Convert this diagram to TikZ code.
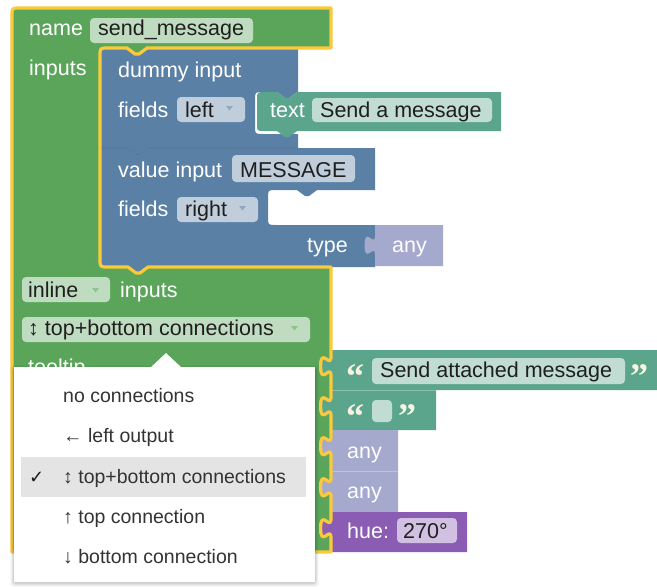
\documentclass[tikz,border=0pt]{standalone}
\usepackage{fontspec}
\setmainfont{Liberation Sans}
\newfontfamily\symfont{DejaVu Sans}
\newfontfamily\quotefont{Liberation Serif}

\definecolor{gblock}{HTML}{5BA55B}
\definecolor{bblock}{HTML}{5B80A5}
\definecolor{tblock}{HTML}{5BA58C}
\definecolor{ablock}{HTML}{A5A9CE}
\definecolor{pblock}{HTML}{8A5CB3}
\definecolor{selcol}{HTML}{FBC93A}
\definecolor{menutext}{HTML}{333333}
\definecolor{menuhl}{HTML}{E4E4E4}
\definecolor{quotecol}{HTML}{F6F3E4}

\begin{document}
\begin{tikzpicture}[x=1pt,y=-1pt,
  lbl/.style={anchor=base west, inner sep=0pt, text=white, font=\fontsize{21.5}{24}\selectfont},
  fldtxt/.style={anchor=base west, inner sep=0pt, text=black!88, font=\fontsize{21.5}{24}\selectfont},
  menuitem/.style={anchor=base west, inner sep=0pt, text=menutext, font=\fontsize{19.5}{22}\selectfont},
  quotemark/.style={anchor=base west, inner sep=0pt, text=quotecol, font=\quotefont\bfseries\fontsize{36}{38}\selectfont},
  fieldbg/.style={fill=white, fill opacity=0.62, rounded corners=4pt},
  ddarrow/.style={fill=#1!68!white},
  % puzzle tab on a right edge, running downwards from block top #2
  tabdn/.style 2 args={insert path={-- (#1,#2+6.5) .. controls (#1,#2+19.5) and (#1-10.4,#2-3.9) .. (#1-10.4,#2+16.25) .. controls (#1-10.4,#2+36.4) and (#1,#2+13) .. (#1,#2+26)}},
  % outline of the selected definition block
  greenshape/.style={insert path={(12,552) -- (12,16) .. controls (12,8) .. (20,8) -- (331,8) -- (331,48)
     -- (147,48) -- (139,54) -- (135,54) -- (127,48) -- (108,48) .. controls (100,48) .. (100,56)
     -- (100,259) .. controls (100,267) .. (108,267) -- (128,267) -- (136,273) -- (140,273) -- (148,267)
     -- (331,267) [tabdn={331}{350}] [tabdn={331}{390}] [tabdn={331}{430}] [tabdn={331}{471}] [tabdn={331}{512}]
     -- (331,552) -- cycle}}
]
\useasboundingbox (0,0) rectangle (657,587);
\fill[white] (0,0) rectangle (657,587);

% ---- definition block body
\fill[gblock] [greenshape];

% ---- dummy input block
\fill[bblock] (100,56) .. controls (100,48) .. (108,48) -- (127,48) -- (135,54) -- (139,54) -- (147,48)
  -- (298,48) -- (298,92) -- (297,92) -- (289,98) -- (285,98) -- (277,92) -- (263,92) .. controls (255,92) .. (255,100)
  -- (255,126) .. controls (255,134) .. (263,134) -- (298,134) -- (298,148)
  -- (148,148) -- (140,154) -- (136,154) -- (128,148) -- (100,148) -- cycle;

% ---- text field block inside it
\fill[tblock] (257,100) .. controls (257,92) .. (265,92) -- (277,92) -- (285,98) -- (289,98) -- (297,92)
  -- (501,92) -- (501,131) -- (297,131) -- (289,137) -- (285,137) -- (277,131) -- (265,131) .. controls (257,131) .. (257,125) -- cycle;

% ---- value input block
\fill[bblock] (100,148) -- (128,148) -- (136,154) -- (140,154) -- (148,148) -- (375,148) -- (375,190)
  -- (317,190) -- (309,196) -- (305,196) -- (297,190) -- (276,190) .. controls (268,190) .. (268,198)
  -- (268,217) .. controls (268,225) .. (276,225) -- (375,225) -- (375,267)
  -- (148,267) -- (140,273) -- (136,273) -- (128,267) -- (108,267) .. controls (100,267) .. (100,259) -- cycle;
\draw[black, opacity=.12, line width=.8pt] (100,148) -- (128,148) -- (136,154) -- (140,154) -- (148,148) -- (298,148);

% ---- type block on the value input
\fill[ablock] (375,225) [tabdn={375}{229}] -- (375,266) -- (443,266) -- (443,225) -- cycle;

% ---- blocks plugged into the right-hand inputs
\fill[tblock] (331,350) [tabdn={331}{350}] -- (331,390) -- (657,390) -- (657,350) -- cycle;
\fill[tblock] (331,390) [tabdn={331}{390}] -- (331,430) -- (436,430) -- (436,390) -- cycle;
\fill[ablock] (331,430) [tabdn={331}{430}] -- (331,471) -- (398,471) -- (398,430) -- cycle;
\fill[ablock] (331,471) [tabdn={331}{471}] -- (331,512) -- (398,512) -- (398,471) -- cycle;
\fill[pblock] (331,512) [tabdn={331}{512}] -- (331,552) -- (467,552) -- (467,512) -- cycle;
\draw[white, opacity=.3, line width=.8pt] (331,390) -- (436,390) (331,471) -- (398,471);

% ---- editable field backgrounds
\fill[fieldbg] (90,18) rectangle (253,43);
\fill[fieldbg] (177,97) rectangle (245,122);
\fill[fieldbg] (312,98) rectangle (492,122);
\fill[fieldbg] (232,155) rectangle (355,182);
\fill[fieldbg] (177,197) rectangle (258,222);
\fill[fieldbg] (22,277) rectangle (110,302);
\fill[fieldbg] (22,317) rectangle (310,342);
\fill[fieldbg] (372,358) rectangle (625,384);
\fill[fieldbg] (372,400) rectangle (392,422);
\fill[fieldbg] (397,518) rectangle (457,543);

% dropdown arrows
\fill[ddarrow=bblock] (226,106) -- (233,106) -- (229.5,110.5) -- cycle;
\fill[ddarrow=bblock] (239,206) -- (246,206) -- (242.5,210.5) -- cycle;
\fill[ddarrow=gblock] (92,288) -- (99,288) -- (95.5,292.5) -- cycle;
\fill[ddarrow=gblock] (291,326) -- (298,326) -- (294.5,330.5) -- cycle;

% ---- labels
\node[lbl] (tname) at (29,35) {name};
\node[fldtxt] (fname) at (98,35) {send\_message};
\node[lbl] (tinputs) at (29,75) {inputs};
\node[lbl] (tdummy) at (118,77) {dummy input};
\node[lbl] (tfields1) at (118,117) {fields};
\node[fldtxt] (fleft) at (185,117) {left};
\node[lbl] (ttext) at (270,117) {text};
\node[fldtxt] (fsend) at (320,117) {Send a message};
\node[lbl] (tvalue) at (118,177) {value input};
\node[fldtxt] (fmsg) at (240,177) {MESSAGE};
\node[lbl] (tfields2) at (118,216) {fields};
\node[fldtxt] (fright) at (185,216) {right};
\node[lbl] (ttype) at (307,252) {type};
\node[lbl] (tany0) at (392,252) {any};
\node[fldtxt] (finline) at (28,297) {inline};
\node[lbl] (tinputs2) at (120,297) {inputs};
\node[fldtxt] (fconn) at (28,335) {↕ top+bottom connections};
\node[lbl] (ttooltip) at (28,374) {tooltip};

\node[quotemark] (q1l) at (346,388) {“};
\node[fldtxt] (ftip) at (380,377) {Send attached message};
\node[quotemark] (q1r) at (630,388) {”};
\node[quotemark] (q2l) at (346,428) {“};
\node[quotemark] (q2r) at (398,428) {”};
\node[lbl] (tany1) at (347,458) {any};
\node[lbl] (tany2) at (347,498) {any};
\node[lbl] (thue) at (347,538) {hue:};
\node[fldtxt] (fhue) at (403,538) {270°};

% ---- selection highlight
\draw[selcol, line width=3.2pt, line join=round] [greenshape];

% ---- open dropdown menu
\foreach \i/\o in {4/0.025,3/0.035,2/0.05,1/0.07}
  \fill[black, opacity=\o, rounded corners=3pt] (14-\i,367-\i+2) rectangle (315+\i,582+\i+1);
\fill[black, opacity=.08] (149,369) -- (166,352) -- (183,369) -- cycle;
\fill[white] (14,367) rectangle (315,582);
\fill[white] (150,368) -- (166,353) -- (182,368) -- cycle;
\fill[menuhl] (21,457) rectangle (306,497);

\node[menuitem] (mnone) at (63,402) {no connections};
\node[menuitem] (mleft) at (63,442) {← left output};
\node[anchor=base west, inner sep=0pt, text=black!90, font=\symfont\fontsize{18}{20}\selectfont] (mcheck) at (29,483) {✓};
\node[menuitem] (mboth) at (63,483) {↕ top+bottom connections};
\node[menuitem] (mtop) at (63,523) {↑ top connection};
\node[menuitem] (mbottom) at (63,563) {↓ bottom connection};
\end{tikzpicture}
\end{document}
